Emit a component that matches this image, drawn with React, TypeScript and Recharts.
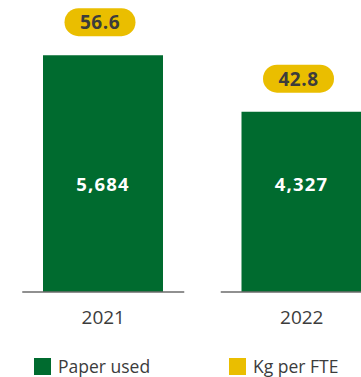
import React from 'react';
import { BarChart, Bar, XAxis, YAxis, LabelList, Legend } from 'recharts';

const years = ['2021', '2022'];
const paperUsed = [5684, 4327];
const kgPerFte = [56.6, 42.8];
const legendItems = ['Paper used', 'Kg per FTE'];

const GREEN = '#006B2F';
const YELLOW = '#EABE00';
const TEXT = '#3C3C3C';
const FONT = '"Open Sans", "Noto Sans", sans-serif';

const data = years.map((year, i) => ({ year, paper: paperUsed[i], kg: kgPerFte[i] }));

const AxisTick = (props: any) => {
    const { x, y, payload } = props;
    return (
        <g>
            <line x1={x - 81} x2={x + 81} y1={y} y2={y} stroke="#6b6b6b" strokeWidth={1.5} />
            <text x={x} y={y + 32} textAnchor="middle" fill={TEXT} fontSize={19} fontFamily={FONT}>
                {payload.value}
            </text>
        </g>
    );
};

const ValueLabel = (props: any) => {
    const { x, y, width, height, value } = props;
    return (
        <text x={x + width / 2} y={y + height - 101} textAnchor="middle" fill="#fff" fontSize={18.5} fontWeight={700} letterSpacing={1.2} fontFamily={FONT}>
            {new Intl.NumberFormat('en-US').format(value)}
        </text>
    );
};

const PillLabel = (props: any) => {
    const { x, y, width, index } = props;
    const cx = x + width / 2 - 3;
    const top = y - 47;
    return (
        <g>
            <rect x={cx - 35.5} y={top} width={71} height={28} rx={14} fill={YELLOW} />
            <text x={cx} y={top + 21} textAnchor="middle" fill={TEXT} fontSize={19} fontWeight={700} letterSpacing={0.5} fontFamily={FONT}>
                {kgPerFte[index].toFixed(1)}
            </text>
        </g>
    );
};

const LegendContent = () => {
    const colors = [GREEN, YELLOW];
    const lefts = [34, 229];
    return (
        <div style={{ position: 'relative', height: 20, width: 361, fontFamily: FONT, fontSize: 17.5, color: TEXT }}>
            {legendItems.map((label, i) => (
                <div key={label} style={{ position: 'absolute', left: lefts[i], top: 0, display: 'flex', alignItems: 'center', height: 18 }}>
                    <span style={{ display: 'inline-block', width: 17, height: 17, background: colors[i], marginRight: 7 }} />
                    <span>{label}</span>
                </div>
            ))}
        </div>
    );
};

export default function App() {
    return (
        <div style={{ position: 'absolute', left: 0, top: 0, width: 361, height: 377, overflow: 'hidden', background: '#fff' }}>
            <BarChart width={405} height={377} data={data} margin={{ top: 42, right: 4, left: 4, bottom: 5 }}>
                <YAxis hide domain={[0, 6000]} />
                <XAxis dataKey="year" axisLine={false} tickLine={false} tickSize={0} tickMargin={0} height={60} tick={<AxisTick />} interval={0} />
                <Legend verticalAlign="bottom" content={<LegendContent />} wrapperStyle={{ position: 'absolute', left: 0, top: 357, width: 361, height: 20 }} />
                <Bar dataKey="paper" fill={GREEN} barSize={120} isAnimationActive={false}>
                    <LabelList dataKey="paper" content={<ValueLabel />} />
                    <LabelList dataKey="kg" content={<PillLabel />} />
                </Bar>
            </BarChart>
        </div>
    );
}
